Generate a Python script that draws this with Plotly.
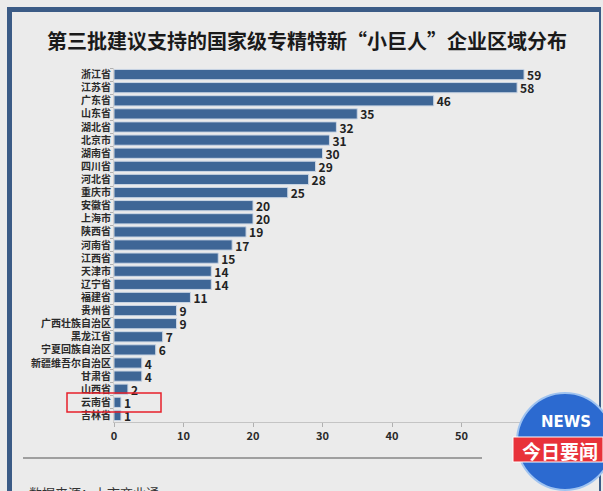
import plotly.graph_objects as go

regions = ["浙江省", "江苏省", "广东省", "山东省", "湖北省", "北京市", "湖南省", "四川省", "河北省",
           "重庆市", "安徽省", "上海市", "陕西省", "河南省", "江西省", "天津市", "辽宁省", "福建省",
           "贵州省", "广西壮族自治区", "黑龙江省", "宁夏回族自治区", "新疆维吾尔自治区", "甘肃省",
           "山西省", "云南省", "吉林省"]
counts = [59, 58, 46, 35, 32, 31, 30, 29, 28, 25, 20, 20, 19, 17, 15, 14, 14, 11, 9, 9, 7, 6, 4, 4, 2, 1, 1]
x_ticks = [0, 10, 20, 30, 40, 50]

W, H = 603, 491
L, R, T, B = 114, 72, 68, 69
PW, PH = W - L - R, H - T - B

def px(x):
    return (x - L) / PW

def py(y):
    return (H - B - y) / PH

FONT = "Noto Sans CJK SC"
BG = "#ebebeb"

fig = go.Figure(go.Bar(
    y=regions, x=counts, orientation="h",
    marker=dict(color="#3e6696", line=dict(color="#c9d5e4", width=1)),
    width=0.78,
    text=counts, textposition="outside", cliponaxis=False, constraintext="none",
    textfont=dict(family=FONT, size=12, color="#222222", weight="bold"),
))

shapes = [
    # frame
    dict(type="rect", xref="paper", yref="paper", x0=px(7), x1=px(12), y0=py(495), y1=py(7),
         fillcolor="#3b5b86", line=dict(width=0), layer="above"),
    dict(type="rect", xref="paper", yref="paper", x0=px(7), x1=px(601), y0=py(12), y1=py(7),
         fillcolor="#3b5b86", line=dict(width=0), layer="above"),
    dict(type="rect", xref="paper", yref="paper", x0=px(599), x1=px(601), y0=py(495), y1=py(7),
         fillcolor="#3b5b86", line=dict(width=0), layer="above"),
    # separator
    dict(type="line", xref="paper", yref="paper", x0=px(23), x1=px(482), y0=py(458), y1=py(458),
         line=dict(color="#555555", width=1.2)),
    # red highlight box
    dict(type="rect", xref="paper", yref="paper", x0=px(67), x1=px(161), y0=py(412), y1=py(393),
         line=dict(color="#e8212b", width=1.5), layer="above"),
    # news logo globe
    dict(type="circle", xref="paper", yref="paper", x0=px(517), x1=px(613), y0=py(490), y1=py(393),
         fillcolor="#2c6ad0", line=dict(color="#9fc3f0", width=2), layer="above"),
    dict(type="rect", xref="paper", yref="paper", x0=px(513), x1=px(603), y0=py(462), y1=py(437),
         fillcolor="#e8323a", line=dict(color="#ffffff", width=1), layer="above"),
]

annotations = [
    dict(text="第三批建议支持的国家级专精特新“小巨人”企业区域分布", xref="paper", yref="paper",
         x=px(307), y=py(40), xanchor="center", yanchor="middle", showarrow=False,
         font=dict(family=FONT, size=20, color="#1a1a1a", weight="bold")),
    dict(text="数据来源：上市商业通", xref="paper", yref="paper",
         x=px(27), y=py(481), xanchor="left", yanchor="top", showarrow=False,
         font=dict(family=FONT, size=13, color="#333333")),
    dict(text="NEWS", xref="paper", yref="paper", x=px(566), y=py(422), xanchor="center",
         yanchor="middle", showarrow=False,
         font=dict(family="DejaVu Sans", size=15, color="#ffffff", weight="bold")),
    dict(text="今日要闻", xref="paper", yref="paper", x=px(560), y=py(450), xanchor="center",
         yanchor="middle", showarrow=False,
         font=dict(family=FONT, size=19, color="#ffffff", weight="bold")),
]

fig.update_layout(
    width=W, height=H,
    margin=dict(l=L, r=R, t=T, b=B, autoexpand=False),
    paper_bgcolor=BG, plot_bgcolor=BG,
    showlegend=False,
    shapes=shapes, annotations=annotations,
)
fig.update_xaxes(range=[0, 60], tickvals=x_ticks, showgrid=False, zeroline=False,
                 showline=True, linecolor="#c4c4c4", linewidth=1,
                 ticks="outside", ticklen=4, tickcolor="#b0b0b0", automargin=False,
                 tickfont=dict(family=FONT, size=11, color="#2a2a2a", weight="bold"))
fig.update_yaxes(categoryorder="array", categoryarray=regions, autorange="reversed",
                 showgrid=False, zeroline=False, showline=True, linecolor="#d0d0d0",
                 ticks="outside", ticklen=3, tickcolor="#b0b0b0", tickson="boundaries",
                 automargin=False,
                 tickfont=dict(family=FONT, size=10, color="#2a2a2a", weight=600))

fig.write_html(
    "out.html",
    config={"displayModeBar": False},
    post_script="document.body.style.margin='0';document.body.style.padding='0';"
                "document.body.style.overflow='hidden';document.body.style.background='" + BG + "';",
)
